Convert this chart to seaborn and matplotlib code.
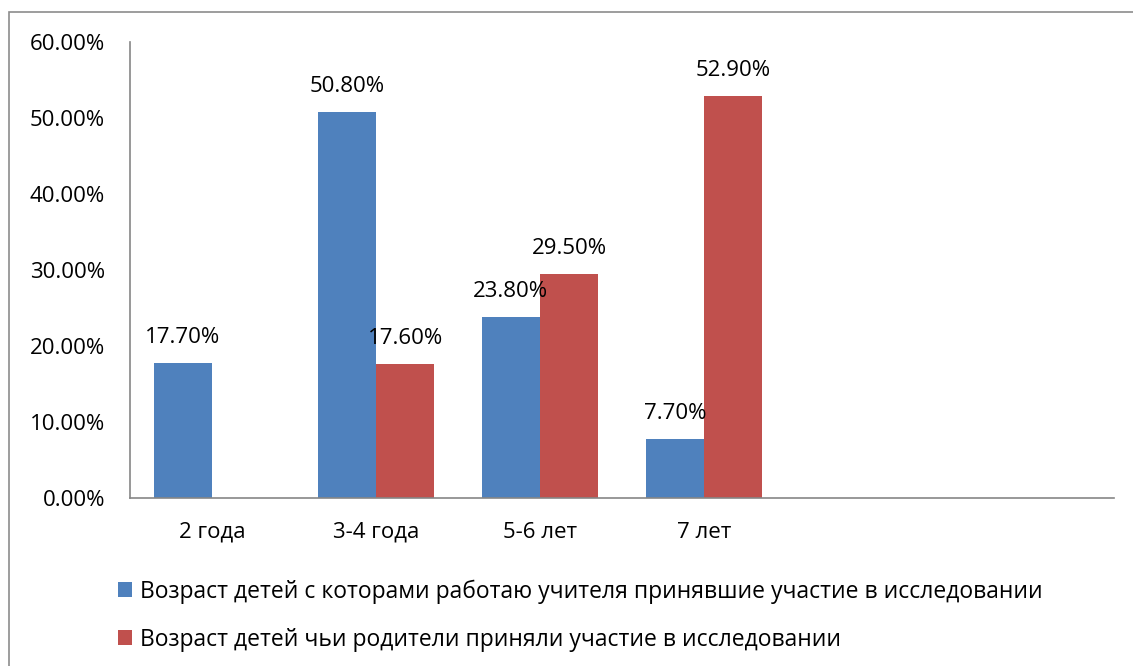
import matplotlib
matplotlib.use("Agg")
import matplotlib.pyplot as plt
from matplotlib.patches import Rectangle, Patch
from matplotlib.ticker import FuncFormatter
import numpy as np
import pandas as pd
import seaborn as sns

categories = ["2 года", "3-4 года", "5-6 лет", "7 лет"]
series_names = [
    "Возраст детей с которами работаю учителя принявшие участие в исследовании",
    "Возраст детей чьи родители приняли участие в исследовании",
]
teachers = [17.7, 50.8, 23.8, 7.7]
parents = [np.nan, 17.6, 29.5, 52.9]
colors = ["#4F81BD", "#C0504D"]

df = pd.DataFrame({
    "cat": categories * 2,
    "series": [series_names[0]] * 4 + [series_names[1]] * 4,
    "value": teachers + parents,
})

sns.set_theme(style="white")
plt.rcParams["font.family"] = ["Open Sans", "DejaVu Sans"]
plt.rcParams["text.color"] = "black"

fig = plt.figure(figsize=(11.33, 6.66), dpi=100)
ax = fig.add_axes([0.1147, 0.2523, 0.8685, 0.6846])

sns.barplot(data=df, x="cat", y="value", hue="series", order=categories,
            hue_order=series_names, palette=colors, width=0.71, gap=0,
            saturation=1, errorbar=None, legend=False, linewidth=0, ax=ax)

for cont in ax.containers:
    for bar in cont:
        h = bar.get_height()
        if np.isnan(h) or h == 0:
            continue
        ax.annotate(f"{h:.2f}%", (bar.get_x() + bar.get_width() / 2, h),
                    xytext=(0, 11), textcoords="offset points",
                    ha="center", va="bottom", fontsize=16, color="black")

ax.set_xlim(-0.5, 5.5)
ax.set_ylim(0, 60)
ax.set_yticks(range(0, 61, 10))
ax.yaxis.set_major_formatter(FuncFormatter(lambda v, p: f"{v:.2f}%"))
ax.tick_params(axis="both", length=0, labelsize=16, colors="black")
ax.tick_params(axis="y", pad=18)
ax.tick_params(axis="x", pad=17)
ax.set_xlabel("")
ax.set_ylabel("")
for s in ["top", "right"]:
    ax.spines[s].set_visible(False)
for s in ["left", "bottom"]:
    ax.spines[s].set_color("#868686")
    ax.spines[s].set_linewidth(1.2)

handles = [Patch(facecolor=c, edgecolor="none") for c in colors]
fig.legend(handles, series_names, loc="upper left",
           bbox_to_anchor=(0.104, 0.13), frameon=False,
           fontsize=16.5, handlelength=0.6, handleheight=0.6,
           handletextpad=0.35, labelspacing=1.05, borderaxespad=0,
           borderpad=0)

# outer chart frame
fig.patches.append(Rectangle((0.008, -0.1), 1.2, (666 - 12) / 666 + 0.1,
                             transform=fig.transFigure, fill=False,
                             edgecolor="#8C8C8C", linewidth=1.2))

fig.savefig("out.png", dpi=100)
